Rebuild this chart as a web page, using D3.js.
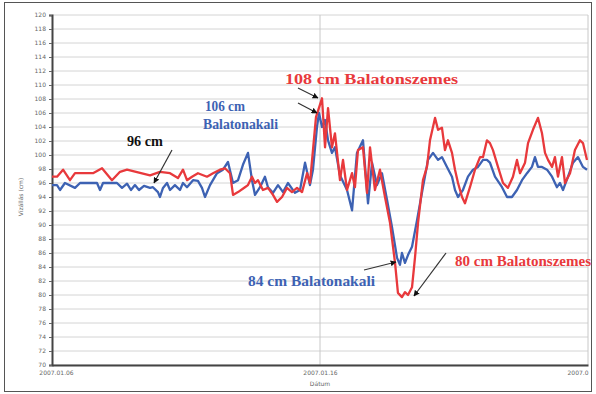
<!DOCTYPE html>
<html><head><meta charset="utf-8">
<script src="https://cdn.jsdelivr.net/npm/d3@7"></script>
<style>html,body{margin:0;padding:0;background:#fff;}</style>
</head><body>
<svg id="c" width="596" height="394"></svg>
<script>
// hours since start, water level (cm)
const szemesHours = [0,4.5,9.9,16.1,20.6,36.7,44.8,53.7,60.9,67.2,87.8,96.7,105.7,112.8,117.3,120.9,125.4,130.7,138.8,144.2,150.4,154.9,159.4,162.1,166.6,172.8,175.5,179.1,181.8,184.5,188.9,193.4,197.9,201.5,206.0,210.4,214.9,219.4,223.9,228.4,231.0,233.7,236.4,241.8,244.5,247.2,250.7,253.4,257.9,260.6,264.2,268.7,271.3,274.0,278.5,282.1,284.8,289.2,293.7,298.2,302.7,307.2,309.8,313.4,316.1,318.8,322.4,325.1,327.8,332.2,335.8,338.5,343.0,345.7,349.2,351.9,354.6,358.2,360.9,363.6,367.2,369.8,374.3,378.8,383.3,386.0,389.5,392.2,394.9,399.4,403.9,408.3,412.8,416.4,419.1,423.6,426.3,430.7,435.2,438.8,441.5,444.2,447.8,450.4,453.1,456.7,459.4,463.9,468.3,472.8,475.5,479.1];
const szemesValues = [96.9,96.9,97.9,96.4,97.4,97.4,98.1,96.4,97.6,97.9,97.1,97.6,97.4,96.7,97.9,96.4,96.9,97.4,96.9,97.4,97.9,98.1,97.4,94.3,94.7,95.4,95.7,96.9,96.0,96.4,95.0,95.3,94.3,93.3,94.0,95.3,94.7,95.3,94.7,97.4,96.0,100.7,105.4,108.1,101.1,106.7,101.1,103.1,96.4,99.3,95.0,97.4,95.4,100.7,101.1,94.6,101.1,95.0,97.9,94.0,90.3,84.6,80.3,79.7,80.4,80.0,81.1,85.4,90.3,96.4,98.3,102.1,105.3,103.6,103.9,100.7,102.1,100.3,97.9,96.0,94.0,93.1,95.4,97.9,99.7,99.7,102.1,101.7,100.7,98.3,96.0,95.3,96.9,99.3,97.4,98.9,101.7,103.6,105.3,103.1,100.3,99.3,98.3,99.7,96.9,99.7,96.0,97.4,100.7,102.1,101.7,99.3];
const akaliHours = [0,4.5,7.2,11.6,20.6,25.1,40.3,43.0,45.7,58.2,62.7,67.2,70.7,74.3,77.9,82.4,87.8,90.4,94.9,96.7,99.4,103.0,105.7,110.1,114.6,117.3,120.9,126.3,130.7,134.3,137.0,141.5,147.8,153.1,157.6,162.1,166.6,171.0,175.5,179.1,181.8,186.3,190.7,193.4,197.9,202.4,206.9,211.3,217.6,222.1,226.6,231.0,233.7,237.3,239.1,241.8,244.5,247.2,250.7,253.4,257.9,264.2,268.7,273.1,278.5,283.0,286.6,291.0,295.5,300.0,304.5,309.0,311.6,313.4,316.1,318.8,322.4,326.9,331.3,336.7,341.2,345.7,349.2,353.7,358.2,360.9,363.6,368.0,372.5,377.0,381.5,386.0,389.5,392.2,396.7,403.0,407.5,411.9,416.4,420.9,425.4,429.8,432.5,435.2,438.8,443.3,447.8,452.2,454.9,457.6,462.1,466.6,471.0,475.5,479.1];
const akaliValues = [95.7,95.7,95.0,96.0,95.3,96.0,96.0,95.0,96.0,96.0,95.3,95.9,95.0,95.7,95.0,95.6,95.3,95.4,94.7,94.0,95.3,96.0,95.0,95.7,95.0,96.0,95.4,96.4,96.3,95.3,94.0,95.7,97.4,97.9,99.0,96.0,96.4,98.6,100.3,96.4,94.3,95.4,96.9,95.4,94.6,95.7,94.7,96.0,94.6,95.0,98.9,95.7,97.9,104.0,106.0,104.0,105.0,102.1,100.3,101.1,97.1,95.0,92.1,100.3,102.1,93.1,98.9,95.7,97.4,93.6,89.7,85.3,84.3,86.0,84.6,85.7,86.9,90.7,94.6,99.3,100.3,99.3,99.7,98.3,96.9,95.0,94.0,95.0,96.9,97.9,98.3,99.3,99.3,98.9,96.9,95.4,94.0,94.0,95.0,96.4,97.4,98.3,99.7,98.3,98.3,97.9,96.9,95.4,96.0,95.0,96.9,98.9,99.7,98.3,97.9];
const yTicks = d3.range(70, 121, 2);
const xTickHours = [0, 240, 480];
const xTickLabels = ["2007.01.06", "2007.01.16", "2007.0"];
const yTitle = "Vízállás (cm)";
const xTitle = "Dátum";

const svg = d3.select("#c");
const L = 52, R = 588, T = 15, B = 365;
const x = d3.scaleLinear().domain([0, 480]).range([L, R]);
const y = d3.scaleLinear().domain([70, 120]).range([B, T]);

// outer frame
svg.append("rect").attr("x", 4.5).attr("y", 2.5).attr("width", 587).attr("height", 389)
  .attr("fill", "none").attr("stroke", "#555").attr("stroke-width", 1);

// horizontal grid
svg.append("g").selectAll("line").data(yTicks).join("line")
  .attr("x1", L).attr("x2", R).attr("y1", d => y(d)).attr("y2", d => y(d))
  .attr("stroke", "#d4d4d4").attr("stroke-width", 1);
// vertical grid
svg.append("g").selectAll("line").data(xTickHours.slice(1)).join("line")
  .attr("x1", d => x(d)).attr("x2", d => x(d)).attr("y1", T).attr("y2", B)
  .attr("stroke", "#c8c8c8").attr("stroke-width", 1);

// y axis
const yAxis = d3.axisLeft(y).tickValues(yTicks).tickSize(3).tickFormat(d3.format("d"));
const gy = svg.append("g").attr("transform", `translate(${L},0)`).call(yAxis);
gy.select(".domain").attr("stroke", "#444").attr("stroke-width", 2);
gy.selectAll(".tick line").attr("stroke", "#666");
gy.selectAll(".tick text").attr("fill", "#666").style("font", "6px 'DejaVu Sans', sans-serif").attr("x", -6);

// x axis
const xAxis = d3.axisBottom(x).tickValues(xTickHours).tickSize(0).tickFormat((d, i) => xTickLabels[i]);
const gx = svg.append("g").attr("transform", `translate(0,${B})`).call(xAxis);
gx.select(".domain").attr("stroke", "#444").attr("stroke-width", 2);
gx.selectAll(".tick text").attr("fill", "#666").style("font", "6px 'DejaVu Sans', sans-serif").attr("dy", "1.2em")
  .attr("text-anchor", (d, i) => i === 2 ? "end" : "middle")
  .attr("dx", (d, i) => i === 0 ? 4 : 0);

svg.append("text").attr("x", x(240)).attr("y", 386).attr("text-anchor", "middle")
  .attr("fill", "#666").style("font", "6px 'DejaVu Sans', sans-serif").text(xTitle);
svg.append("text").attr("transform", "translate(23,197) rotate(-90)").attr("text-anchor", "middle")
  .attr("fill", "#666").style("font", "6px 'DejaVu Sans', sans-serif").text(yTitle);

// series
const line = d3.line().x(d => x(d[0])).y(d => y(d[1]));
const akali = d3.zip(akaliHours, akaliValues);
const szemes = d3.zip(szemesHours, szemesValues);
svg.append("path").datum(akali).attr("d", line).attr("fill", "none")
  .attr("stroke", "#3d62b3").attr("stroke-width", 2.3).attr("stroke-linejoin", "round");
svg.append("path").datum(szemes).attr("d", line).attr("fill", "none")
  .attr("stroke", "#e8393c").attr("stroke-width", 2.3).attr("stroke-linejoin", "round");

// arrows
const defs = svg.append("defs");
defs.append("marker").attr("id", "ah").attr("viewBox", "0 0 10 10").attr("refX", 9).attr("refY", 5)
  .attr("markerWidth", 5).attr("markerHeight", 5).attr("orient", "auto")
  .append("path").attr("d", "M0,0L10,5L0,10z").attr("fill", "#111");
const arrows = [
  [172, 150, 154, 183],
  [298, 88, 318, 98],
  [298, 103, 317, 113],
  [364, 270, 396, 262],
  [446, 253, 414, 296]
];
svg.append("g").selectAll("line").data(arrows).join("line")
  .attr("x1", d => d[0]).attr("y1", d => d[1]).attr("x2", d => d[2]).attr("y2", d => d[3])
  .attr("stroke", "#333").attr("stroke-width", 1.2).attr("marker-end", "url(#ah)");

// annotations
const serif = "'Liberation Serif', 'DejaVu Serif', serif";
const notes = [
  {t: "108 cm Balatonszemes", x: 285, y: 84, w: 173, c: "#e8393c"},
  {t: "106 cm", x: 205, y: 111, w: 40, c: "#3d62b3"},
  {t: "Balatonakali", x: 203, y: 129, w: 75, c: "#3d62b3"},
  {t: "96 cm", x: 127, y: 146, w: 36, c: "#111"},
  {t: "84 cm Balatonakali", x: 248, y: 286, w: 127, c: "#3d62b3"},
  {t: "80 cm Balatonszemes", x: 455, y: 266, w: 136, c: "#e8393c"}
];
svg.append("g").selectAll("text").data(notes).join("text")
  .attr("x", d => d.x).attr("y", d => d.y).attr("fill", d => d.c)
  .attr("textLength", d => d.w).attr("lengthAdjust", "spacingAndGlyphs")
  .style("font", `bold 14px ${serif}`).text(d => d.t);
</script>
</body></html>
